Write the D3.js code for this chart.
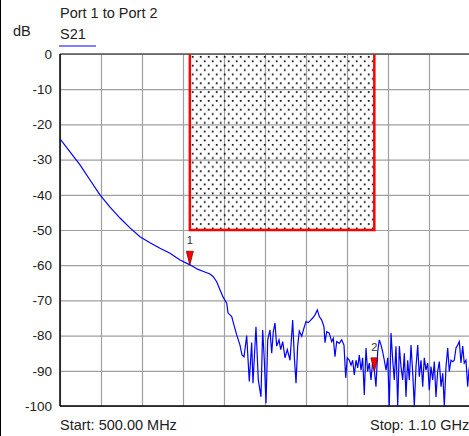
<!DOCTYPE html>
<html>
<head>
  <meta charset="utf-8">
  <script src="https://d3js.org/d3.v7.min.js"></script>
  <style>
  body {
    margin: 0;
    background: #fff;
  }
  text {
    font-family: "Liberation Sans", Arial, sans-serif;
    font-size: 14.5px;
    fill: #222;
  }
  .ylab {
    font-size: 13.5px;
  }
  .grid line {
    stroke: #a0a0a0;
    stroke-width: 1.2px;
  }
  .grid path {
    display: none;
  }
  .trace {
    fill: none;
    stroke: #0000ff;
    stroke-width: 1.2px;
  }
  .marker-label {
    font-size: 11px;
    fill: #333;
  }
  </style>
</head>
<body>
<script>
// axis values
var yTicks = [0, -10, -20, -30, -40, -50, -60, -70, -80, -90, -100];
var xGrid = [500, 560, 620, 680, 740, 800, 860, 920, 980, 1040, 1100];
var freqRange = [500, 1100];   // MHz
var dbRange = [-100, 0];

// limit mask (dotted box)
var maskFreq = [690, 960];
var maskDb = [0, -50];

// markers
var markerIds = [1, 2];
var markerFreq = [690, 960];
var markerDb = [-60, -90.3];

// S21 trace [MHz, dB]
var s21 = [
  [500,-24.1],[514.6,-27.8],[529.3,-31.5],[543.9,-35.8],[558.5,-40],[573.2,-43.5],
  [587.8,-46.6],[602.4,-49.4],[617.1,-51.9],[631.7,-53.6],[646.3,-55.2],[661,-56.6],
  [675.6,-58.5],[690.2,-59.9],[702,-61.2],[710,-61.8],[719.5,-62.5],[723.9,-63.2],
  [729.3,-64.7],[734.1,-67],[738.5,-69],[744,-70.8],[745.9,-73.6],[751.3,-74.6],
  [754.6,-77],[758.6,-79.8],[763.4,-82.7],[766.3,-85.5],[769.3,-86],
  [773.2,-80],[777,-93],[780.5,-82],[782.4,-93.5],[786.8,-77.5],[790.2,-92.6],
  [794.1,-97.4],[796.6,-78.4],[799,-87],[801.5,-99.2],[804,-81.2],[807.3,-78.4],
  [809.8,-85],[812.1,-79],[814.6,-76.4],[817.1,-83],[820.5,-81.2],[823,-84],
  [825.9,-81.7],[829.3,-86.3],[832.6,-84],[836.6,-87],[840.5,-75.6],[842.9,-86],
  [845.4,-93.5],[847.8,-83],[850.2,-78.7],[853.7,-80.2],[857.1,-77.8],[860,-76],
  [863.4,-76.3],[866.9,-75.6],[869.8,-75],[873.2,-74.1],[876.6,-72.7],[879.5,-74.6],
  [883,-75.6],[886.3,-77.5],[887.8,-82],[890.3,-78.9],[894.1,-79.3],[897.6,-81.7],
  [900,-80.8],[902.4,-86],[904.9,-81.7],[908.7,-82.2],[912.2,-81.2],[915.6,-82.7],
  [918.1,-92],[920.4,-86.3],[923.4,-87],[925.9,-88.4],[928.3,-87],[930.7,-91.2],
  [933.2,-87],[935.6,-89.2],[938,-85.5],[940.5,-89.8],[942.9,-86.3],[945.3,-96.9],
  [947.8,-83.5],[950.2,-90.2],[952.6,-87.8],[955.1,-92.6],[957.6,-87.4],[960,-89.8],
  [962.4,-94.5],[964.9,-84.6],[967.3,-81.2],[969.8,-82.7],[972.2,-84.6],[974.6,-87],
  [977.1,-89.8],[979.6,-86.3],[981.9,-100],[984.4,-79.3],[986.9,-87],[989.2,-92.6],
  [991.7,-83],[994.2,-100],[996.6,-83],[999,-88.8],[1001.5,-92.6],[1003.9,-85],
  [1006.3,-97.4],[1008.8,-87],[1011.2,-92.6],[1013.7,-82.7],[1016.2,-90.7],[1018.5,-100],
  [1021,-88.8],[1023.5,-82.7],[1025.8,-91.7],[1028.3,-87],[1030.8,-94.5],[1033.1,-86.3],
  [1035.6,-89.8],[1038.1,-87.8],[1040.4,-95.5],[1042.9,-88.8],[1045.4,-92.6],[1047.8,-87.4],
  [1050.2,-97.4],[1052.7,-90.2],[1055.1,-87.4],[1057.6,-94.5],[1060.1,-90.7],[1062.4,-100],
  [1064.9,-88.8],[1067.4,-83.5],[1069.7,-90.2],[1072.2,-87],[1074.7,-87.4],[1077,-87],
  [1079.5,-83.5],[1082,-82.7],[1084.4,-81.7],[1086.8,-87.8],[1089.3,-83],[1091.6,-87.8],
  [1094.1,-87],[1096.6,-94.5],[1098.5,-89.8],[1100,-88]
];

function draw() {
  var W = 469, H = 436;
  var mLeft = 60, mRight = 470, mTop = 54, mBottom = 406;

  var svg = d3.select('body').append('svg')
    .attr('width', W)
    .attr('height', H);

  var x = d3.scaleLinear().domain(freqRange).range([mLeft, mRight]);
  var y = d3.scaleLinear().domain(dbRange).range([mBottom, mTop]);

  // dotted fill for the mask, staggered rows
  var defs = svg.append('defs');
  var pat = defs.append('pattern')
    .attr('id', 'dots')
    .attr('patternUnits', 'userSpaceOnUse')
    .attr('x', x(maskFreq[0]))
    .attr('y', y(maskDb[0]))
    .attr('width', 8).attr('height', 8.8);
  pat.append('rect').attr('x', 2).attr('y', 2).attr('width', 1.7).attr('height', 1.7).attr('fill', '#000');
  pat.append('rect').attr('x', 6).attr('y', 6.4).attr('width', 1.7).attr('height', 1.7).attr('fill', '#000');

  defs.append('clipPath').attr('id', 'plot')
    .append('rect')
    .attr('x', mLeft).attr('y', mTop - 1)
    .attr('width', mRight - mLeft).attr('height', mBottom - mTop + 2);

  // outer frame line on the left
  svg.append('line')
    .attr('x1', 0.5).attr('x2', 0.5).attr('y1', 0).attr('y2', H)
    .attr('stroke', '#000').attr('stroke-width', 1);

  // grid
  svg.append('g')
    .attr('class', 'grid')
    .attr('transform', 'translate(0,' + mBottom + ')')
    .call(d3.axisBottom(x).tickValues(xGrid).tickSize(-(mBottom - mTop)).tickFormat(''));

  svg.append('g')
    .attr('class', 'grid')
    .attr('transform', 'translate(' + mLeft + ',0)')
    .call(d3.axisLeft(y).tickValues(yTicks).tickSize(-(mRight - mLeft)).tickFormat(''));

  // y labels
  svg.append('g')
    .selectAll('text')
    .data(yTicks)
    .enter().append('text')
    .attr('class', 'ylab')
    .attr('x', 52)
    .attr('y', function(d) { return y(d); })
    .attr('dy', '0.36em')
    .attr('text-anchor', 'end')
    .text(function(d) { return d; });

  // mask box
  svg.append('rect')
    .attr('x', x(maskFreq[0]))
    .attr('y', y(maskDb[0]))
    .attr('width', x(maskFreq[1]) - x(maskFreq[0]))
    .attr('height', y(maskDb[1]) - y(maskDb[0]))
    .attr('fill', 'url(#dots)');

  svg.append('path')
    .attr('d', 'M' + x(maskFreq[0]) + ',' + y(maskDb[0]) +
               'V' + y(maskDb[1]) + 'H' + x(maskFreq[1]) + 'V' + y(maskDb[0]))
    .attr('fill', 'none')
    .attr('stroke', '#ff0000')
    .attr('stroke-width', 2.5);

  // frame: top grey, left and bottom black
  svg.append('line')
    .attr('x1', mLeft).attr('x2', mRight).attr('y1', mTop).attr('y2', mTop)
    .attr('stroke', '#555').attr('stroke-width', 1.5);
  svg.append('line')
    .attr('x1', mLeft).attr('x2', mLeft).attr('y1', mTop).attr('y2', mBottom)
    .attr('stroke', '#000').attr('stroke-width', 1.5);
  svg.append('line')
    .attr('x1', mLeft).attr('x2', mRight).attr('y1', mBottom).attr('y2', mBottom)
    .attr('stroke', '#000').attr('stroke-width', 1.5);

  // trace
  var line = d3.line()
    .x(function(d) { return x(d[0]); })
    .y(function(d) { return y(d[1]); });

  svg.append('path')
    .datum(s21)
    .attr('class', 'trace')
    .attr('clip-path', 'url(#plot)')
    .attr('d', line);

  // markers
  var mk = svg.append('g').selectAll('g')
    .data(markerIds)
    .enter().append('g')
    .attr('transform', function(d, i) {
      return 'translate(' + x(markerFreq[i]) + ',' + y(markerDb[i]) + ')';
    });

  mk.append('path')
    .attr('d', 'M-3.5,-14L3.5,-14L0,0Z')
    .attr('fill', '#ff0000')
    .attr('stroke', '#600')
    .attr('stroke-width', 0.7);

  mk.append('text')
    .attr('class', 'marker-label')
    .attr('y', -21)
    .attr('text-anchor', 'middle')
    .text(function(d) { return d; });

  // titles
  svg.append('text').attr('x', 60).attr('y', 18).text('Port 1 to Port 2');
  svg.append('text').attr('x', 13).attr('y', 36).text('dB');
  svg.append('text').attr('x', 60).attr('y', 39).text('S21');
  svg.append('line')
    .attr('x1', 59).attr('x2', 96).attr('y1', 46).attr('y2', 46)
    .attr('stroke', '#0000ff').attr('stroke-width', 1.2);

  svg.append('text').attr('x', 60).attr('y', 430).text('Start: 500.00 MHz');
  svg.append('text').attr('x', 370).attr('y', 430).text('Stop: 1.10 GHz');
}

draw();
</script>
</body>
</html>
